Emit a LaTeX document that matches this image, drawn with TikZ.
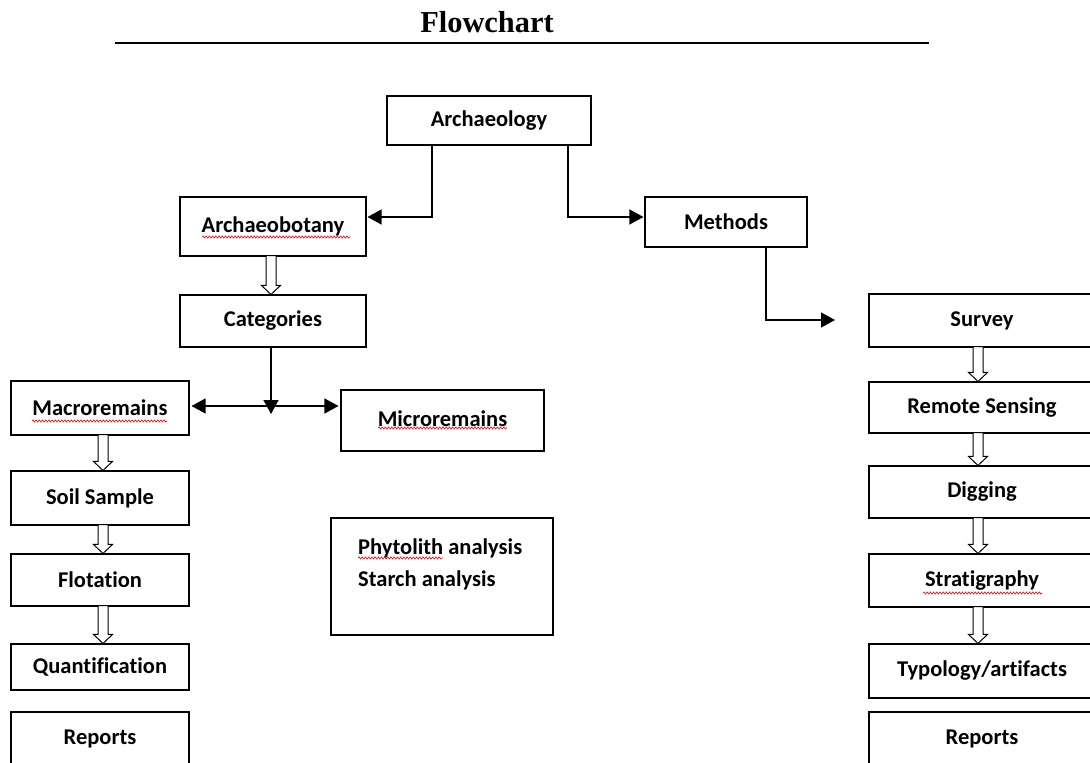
\documentclass[tikz,border=0pt]{standalone}
\usepackage{fontspec}
\setmainfont{Carlito}[Ligatures=NoCommon]
\newfontfamily\titlefont{Liberation Serif}
\usetikzlibrary{arrows.meta,calc,decorations.pathmorphing}
\newcommand{\hollowarr}[3]{%
  \draw[hollowstyle] let \p1=([xshift=#3]#1.south), \p2=([xshift=#3]#2.north) in
    (\x1-5pt,\y1+1pt) -- (\x1-5pt,\y2+9pt) -- (\x1-9.5pt,\y2+9pt) -- (\x1,\y2) --
    (\x1+9.5pt,\y2+9pt) -- (\x1+5pt,\y2+9pt) -- (\x1+5pt,\y1+1pt) -- cycle;}
\tikzset{
  box/.style={draw, line width=1.1pt, inner sep=0pt, font=\bfseries\fontsize{22.5}{27}\selectfont},
  conn/.style={line width=1.3pt, -{Triangle[length=14pt,width=15pt]}},
  hollowstyle/.style={draw, fill=white, line width=1pt},
  spell/.style={red, line width=0.6pt, decorate, decoration={snake, amplitude=1.1pt, segment length=3.2pt}}
}
\begin{document}
\begin{tikzpicture}[x=1pt,y=-1pt]
\useasboundingbox (0,0) rectangle (1090,763);
% title
\node (title) at (487,22) {\titlefont\bfseries\fontsize{30.4}{35}\selectfont Flowchart};
\coordinate (tl) at (115,43);
\coordinate (tr) at (929,43);
\draw[line width=1.6pt] (tl) -- (tr);
% top
\node[box, minimum width=204pt, minimum height=49pt] (arch) at (489,120.5) {\raisebox{-1pt}{Archaeology}};
\node[box, minimum width=186pt, minimum height=59pt] (abot) at (273,226.5) {\raisebox{4pt}{Archaeobotany}};
\node[box, minimum width=162pt, minimum height=50pt] (meth) at (726,222) {Methods};
\node[box, minimum width=186pt, minimum height=52pt] (cat) at (273,321) {Categories};
\node[box, minimum width=178pt, minimum height=54pt] (macro) at (100,408) {Macroremains};
\node[box, minimum width=203pt, minimum height=61pt] (micro) at (442.5,420.5) {\raisebox{4pt}{Microremains}};
% left column
\node[box, minimum width=178pt, minimum height=54pt] (soil) at (100,498) {Soil Sample};
\node[box, minimum width=178pt, minimum height=52pt] (flot) at (100,580) {Flotation};
\node[box, minimum width=178pt, minimum height=46pt] (quant) at (100,667) {Quantification};
\node[box, minimum width=178pt, minimum height=53pt] (repl) at (100,738.5) {Reports};
% analysis box
\node[box, minimum width=222pt, minimum height=117pt] (anal) at (442,576.5) {};
\node[anchor=west, align=left, inner sep=0pt, font=\bfseries\fontsize{22.5}{32}\selectfont] (analtxt) at (358,564) {Phytolith analysis\\Starch analysis};
% right column
\node[box, minimum width=226pt, minimum height=53pt] (surv) at (982,320.5) {Survey};
\node[box, minimum width=226pt, minimum height=51pt] (remo) at (982,407.5) {Remote Sensing};
\node[box, minimum width=226pt, minimum height=52pt] (dig) at (982,492) {Digging};
\node[box, minimum width=226pt, minimum height=53pt] (strat) at (982,580.5) {Stratigraphy};
\node[box, minimum width=226pt, minimum height=54pt] (typo) at (982,671) {Typology/artifacts};
\node[box, minimum width=226pt, minimum height=53pt] (repr) at (982,738.5) {Reports};
% connectors
\draw[conn] ([xshift=-57pt]arch.south) |- ([yshift=9.5pt,xshift=1pt]abot.east);
\draw[conn] ([xshift=79pt]arch.south) |- ([yshift=5pt,xshift=-1pt]meth.west);
\coordinate (survin) at (835,320);
\draw[conn] ([xshift=40pt]meth.south) |- (survin);
\coordinate (jc) at (271,406);
\coordinate (jt) at (271,414);
\draw[conn] (cat.south -| jt) -- (jt);
\draw[conn] (jc) -- ([xshift=2pt]macro.east |- jc);
\draw[conn] (jc) -- ([xshift=-2pt]micro.west |- jc);
% hollow arrows
\hollowarr{abot}{cat}{-2pt}
\hollowarr{macro}{soil}{3pt}
\hollowarr{soil}{flot}{3pt}
\hollowarr{flot}{quant}{3pt}
\hollowarr{surv}{remo}{-4pt}
\hollowarr{remo}{dig}{-4pt}
\hollowarr{dig}{strat}{-4pt}
\hollowarr{strat}{typo}{-4pt}
% spell-check underlines
\draw[spell] (202,237) -- (350,237);
\draw[spell] (32,421) -- (167,421);
\draw[spell] (378,428) -- (507,428);
\draw[spell] (358,558) -- (443,558);
\draw[spell] (923,593) -- (1042,593);
\end{tikzpicture}
\end{document}
